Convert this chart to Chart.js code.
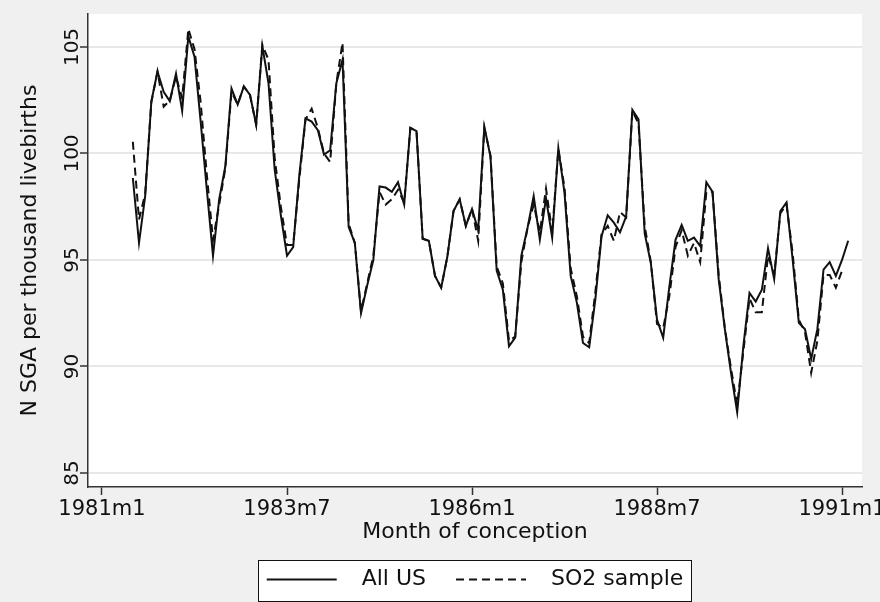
<!DOCTYPE html>
<html>
<head>
<meta charset="utf-8">
<title>SGA por mes de concepcion</title>
<script src="https://cdn.jsdelivr.net/npm/chart.js@4.4.0/dist/chart.umd.min.js"></script>
<style>
    html, body { margin: 0; padding: 0; background: #f0f0f0; overflow: hidden; }
    #contenedor { width: 900px; height: 602px; }
</style>
</head>
<body>
<div id="contenedor"><canvas id="graficoSGA" width="900" height="602"></canvas></div>
<script>
// Meses contados desde 1981m1 (0 = 1981m1); la serie arranca en 1981m6
const primerMes = 5;

// N SGA por mil nacidos vivos, todo EEUU
const allUS = [
    98.85, 95.8, 98.0, 102.45, 103.85, 102.9, 102.45, 103.75, 102.0, 105.5,
    104.55, 101.5, 98.3, 95.2, 97.85, 99.4, 103.05, 102.3, 103.15, 102.75,
    101.35, 105.05, 103.3, 99.25, 97.1, 95.2, 95.6, 99.0, 101.65, 101.5,
    101.1, 99.95, 100.15, 103.3, 104.4, 96.55, 95.8, 92.5, 93.8, 95.0,
    98.45, 98.4, 98.2, 98.65, 97.6, 101.2, 101.05, 96.0, 95.9, 94.25,
    93.7, 95.15, 97.3, 97.85, 96.6, 97.4, 96.4, 101.25, 99.85, 94.5,
    93.6, 90.95, 91.35, 95.2, 96.5, 98.0, 95.95, 97.9, 96.05, 100.25,
    98.15, 94.25, 93.0, 91.1, 90.9, 93.15, 96.1, 97.1, 96.75, 96.3,
    97.05, 102.05, 101.6, 96.25, 94.85, 92.2, 91.35, 93.75, 95.95, 96.65,
    95.9, 96.05, 95.65, 98.65, 98.2, 94.1, 91.75, 89.7, 87.85, 90.95,
    93.45, 93.05, 93.6, 95.55, 94.1, 97.3, 97.7, 95.0, 92.05, 91.75,
    90.35, 91.75, 94.55, 94.9, 94.25, 95.0, 95.9
];

// Muestra SO2 (termina un mes antes)
const so2Sample = [
    100.55, 96.9, 98.1, 102.4, 103.85, 102.2, 102.5, 103.6, 102.6, 105.85,
    104.9, 102.4, 99.0, 95.95, 97.6, 99.3, 102.9, 102.3, 103.15, 102.75,
    101.35, 105.1, 104.4, 99.8, 97.5, 95.7, 95.7, 98.8, 101.6, 102.1,
    101.2, 100.0, 99.6, 103.3, 105.2, 96.7, 95.8, 92.6, 93.9, 95.2,
    98.2, 97.6, 97.85, 98.3, 97.7, 101.2, 101.05, 96.0, 95.9, 94.25,
    93.7, 95.15, 97.3, 97.85, 96.6, 97.4, 95.9, 101.2, 99.9, 94.7,
    93.9, 91.2, 91.4, 94.9, 96.5, 97.6, 96.3, 98.35, 96.3, 100.2,
    98.4, 94.6, 93.3, 91.4, 91.1, 93.5, 96.2, 96.6, 95.9, 97.25,
    97.0, 102.0, 101.4, 96.6, 94.9, 92.0, 91.8, 93.3, 95.6, 96.4,
    95.2, 95.8, 94.9, 98.2, 98.2, 94.3, 91.8, 89.9, 88.2, 90.7,
    93.2, 92.55, 92.55, 95.2, 94.3, 97.2, 97.6, 95.3, 92.2, 91.6,
    89.7, 91.2, 94.3, 94.3, 93.7, 94.5, null
];

// Marcas de los ejes
const mesesTicks = [0, 30, 60, 90, 120];
const etiquetasTicks = ["1981m1", "1983m7", "1986m1", "1988m7", "1991m1"];
const ticksY = [85, 90, 95, 100, 105];

const fuente = "'DejaVu Sans', sans-serif";
const negro = "#111";

// pasa cada serie a puntos {x: mes, y: valor}
const aPuntos = (serie) => serie.map((v, i) => ({ x: primerMes + i, y: v }));

// fondo gris, area del grafico blanca y recuadro de la leyenda
const fondo = {
    id: "fondo",
    beforeDraw(chart) {
        const { ctx, chartArea: a } = chart;
        ctx.save();
        ctx.fillStyle = "#f0f0f0";
        ctx.fillRect(0, 0, chart.width, chart.height);
        ctx.fillStyle = "#ffffff";
        ctx.fillRect(a.left, a.top, a.right - a.left, a.bottom - a.top);

        const cajas = chart.legend && chart.legend.legendHitBoxes;
        if (cajas && cajas.length) {
            const ini = cajas[0];
            const fin = cajas[cajas.length - 1];
            const x1 = Math.round(ini.left - 9) + 0.5;
            const x2 = Math.round(fin.left + fin.width + 8) + 0.5;
            const y1 = Math.round(ini.top - 9) + 0.5;
            const y2 = Math.round(ini.top + ini.height + 10) + 0.5;
            ctx.fillStyle = "#ffffff";
            ctx.fillRect(x1, y1, x2 - x1, y2 - y1);
            ctx.strokeStyle = negro;
            ctx.lineWidth = 1;
            ctx.strokeRect(x1, y1, x2 - x1, y2 - y1);
        }
        ctx.restore();
    }
};

const ctx = document.querySelector("#graficoSGA").getContext("2d");

const config = {
    type: "line",
    data: {
        datasets: [
            {
                label: "All US",
                data: aPuntos(allUS),
                borderColor: negro,
                borderWidth: 2,
                pointRadius: 0,
                tension: 0
            },
            {
                label: "SO2 sample",
                data: aPuntos(so2Sample),
                borderColor: negro,
                borderWidth: 2,
                borderDash: [8, 5],
                pointRadius: 0,
                tension: 0
            }
        ]
    },
    options: {
        responsive: false,
        animation: false,
        layout: { padding: { left: 0, top: 14, right: 38, bottom: 1.5 } },
        scales: {
            x: {
                type: "linear",
                min: -2.27,
                max: 123.24,
                afterBuildTicks: (s) => { s.ticks = mesesTicks.map(v => ({ value: v })); },
                afterFit: (s) => { s.height = 51.5; },
                ticks: {
                    autoSkip: false,
                    maxRotation: 0,
                    padding: 2,
                    color: negro,
                    font: { family: fuente, size: 21 },
                    callback: (v) => etiquetasTicks[mesesTicks.indexOf(v)]
                },
                grid: {
                    drawOnChartArea: false,
                    tickLength: 8,
                    tickColor: "#333",
                    tickWidth: 1.5
                },
                border: { color: "#333", width: 1.5 },
                title: {
                    display: true,
                    text: "Month of conception",
                    color: negro,
                    font: { family: fuente, size: 22 },
                    padding: { top: 0, bottom: -7 }
                }
            },
            y: {
                min: 84.34,
                max: 106.55,
                afterBuildTicks: (s) => { s.ticks = ticksY.map(v => ({ value: v })); },
                afterFit: (s) => { s.width = 88; },
                ticks: {
                    // etiquetas verticales, se leen de abajo hacia arriba
                    minRotation: 90,
                    maxRotation: 90,
                    crossAlign: "center",
                    padding: -12,
                    color: negro,
                    font: { family: fuente, size: 20 }
                },
                grid: {
                    color: "#e8e8e8",
                    lineWidth: 2,
                    tickLength: 8,
                    tickColor: "#333",
                    tickWidth: 1.5
                },
                border: { color: "#333", width: 1.5 },
                title: {
                    display: true,
                    text: "N SGA per thousand livebirths",
                    color: negro,
                    font: { family: fuente, size: 22 },
                    padding: { top: 17, bottom: 0 }
                }
            }
        },
        plugins: {
            legend: {
                display: true,
                position: "bottom",
                fullSize: false,
                labels: {
                    usePointStyle: true,
                    pointStyle: "line",
                    pointStyleWidth: 70,
                    padding: 30,
                    color: negro,
                    font: { family: fuente, size: 22 },
                    generateLabels: (chart) => {
                        const items = Chart.defaults.plugins.legend.labels.generateLabels(chart);
                        items.forEach(it => {
                            const ds = chart.data.datasets[it.datasetIndex];
                            it.text = "  " + it.text;
                            it.strokeStyle = ds.borderColor;
                            it.lineWidth = ds.borderWidth;
                            it.lineDash = ds.borderDash || [];
                        });
                        return items;
                    }
                }
            },
            tooltip: { enabled: false }
        }
    },
    plugins: [fondo]
};

const graficoSGA = new Chart(ctx, config);
</script>
</body>
</html>
